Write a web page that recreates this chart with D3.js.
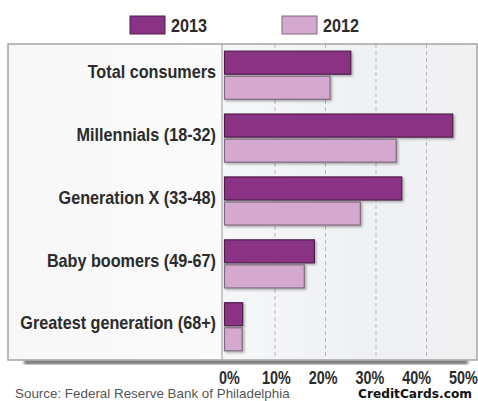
<!DOCTYPE html>
<html>
<head>
<meta charset="utf-8">
<script src="https://cdn.jsdelivr.net/npm/d3@7"></script>
<style>
  body { margin: 0; background: #fff; }
  svg { display: block; }
  .cond { font-family: "Liberation Sans", Arial, sans-serif; font-weight: bold; }
</style>
</head>
<body>
<div id="chart"></div>
<script>
// Share of consumers, by generation
const categories = ["Total consumers", "Millennials (18-32)", "Generation X (33-48)", "Baby boomers (49-67)", "Greatest generation (68+)"];
const years = ["2013", "2012"];
const values2013 = [25, 45.2, 35.1, 17.8, 3.6];
const values2012 = [20.9, 34, 26.9, 15.8, 3.5];
const tickValues = [0, 10, 20, 30, 40, 50];

const width = 478, height = 401;
const colours = { "2013": "#8a3283", "2012": "#d4a8cf" };
const strokes = { "2013": "#4e1f4a", "2012": "#7d6b7b" };

const svg = d3.select("#chart").append("svg")
    .attr("width", width)
    .attr("height", height);

const defs = svg.append("defs");

// panel gradients
const lg = defs.append("linearGradient").attr("id", "labelBg").attr("x1", 0).attr("x2", 1);
lg.append("stop").attr("offset", 0).attr("stop-color", "#f7f7f7");
lg.append("stop").attr("offset", 1).attr("stop-color", "#fbfbfb");
const pg = defs.append("linearGradient").attr("id", "plotBg").attr("x1", 0).attr("x2", 1);
pg.append("stop").attr("offset", 0).attr("stop-color", "#f6f7f9");
pg.append("stop").attr("offset", 0.6).attr("stop-color", "#eef0f3");
pg.append("stop").attr("offset", 1).attr("stop-color", "#f1f1f2");

defs.append("filter").attr("id", "blur")
    .append("feGaussianBlur").attr("stdDeviation", 1.5);
defs.append("filter").attr("id", "barShadow")
    .attr("x", "-10%").attr("y", "-20%").attr("width", "130%").attr("height", "160%")
    .append("feDropShadow")
    .attr("dx", 1.5).attr("dy", 1.5).attr("stdDeviation", 1)
    .attr("flood-color", "#000").attr("flood-opacity", 0.3);

// frame geometry
const frameL = 8, frameR = 477, frameT = 44, frameB = 360, divider = 222;

// scales
const x = d3.scaleLinear().domain([0, 50]).range([224.5, 477]);
const y = d3.scaleBand().domain(categories).range([frameT - 1, frameB - 1])
    .paddingInner(0.235).paddingOuter(0.13);
const ySub = d3.scaleBand().domain(years).range([0, y.bandwidth()]).paddingInner(0.08);
// the printed tick labels sit a bit off the gridlines in the original
const xLabel = d3.scaleLinear().domain([0, 50]).range([229, 463]);

// drop shadow under the frame
svg.append("rect")
    .attr("x", 24).attr("y", frameB + 0.5)
    .attr("width", 444).attr("height", 3.5)
    .attr("fill", "#555")
    .attr("filter", "url(#blur)");

// panels
svg.append("rect")
    .attr("x", frameL).attr("y", frameT)
    .attr("width", divider - frameL).attr("height", frameB - frameT)
    .attr("fill", "url(#labelBg)");
svg.append("rect")
    .attr("x", divider).attr("y", frameT)
    .attr("width", frameR - divider).attr("height", frameB - frameT)
    .attr("fill", "url(#plotBg)");

// gridlines
svg.append("g")
    .selectAll("line")
    .data(tickValues.filter(d => d > 0 && d < 50))
    .join("line")
    .attr("x1", d => x(d)).attr("x2", d => x(d))
    .attr("y1", frameT).attr("y2", frameB)
    .attr("stroke", "#b9b9bd")
    .attr("stroke-width", 1)
    .attr("stroke-dasharray", "4,3");

// frame
svg.append("rect")
    .attr("x", frameL).attr("y", frameT)
    .attr("width", frameR - frameL).attr("height", frameB - frameT)
    .attr("fill", "none")
    .attr("stroke", "#a4a4a4")
    .attr("stroke-width", 1.5);
svg.append("line")
    .attr("x1", divider).attr("x2", divider)
    .attr("y1", frameT).attr("y2", frameB)
    .attr("stroke", "#a4a4a4")
    .attr("stroke-width", 1.2);

// bars
const rows = categories.map((c, i) => ({ cat: c, "2013": values2013[i], "2012": values2012[i] }));
const groups = svg.append("g")
    .selectAll("g")
    .data(rows)
    .join("g")
    .attr("transform", d => `translate(0,${y(d.cat)})`);

groups.selectAll("rect")
    .data(d => years.map(k => ({ key: k, value: d[k] })))
    .join("rect")
    .attr("x", x(0))
    .attr("y", d => ySub(d.key))
    .attr("width", d => x(d.value) - x(0))
    .attr("height", ySub.bandwidth())
    .attr("fill", d => colours[d.key])
    .attr("stroke", d => strokes[d.key])
    .attr("stroke-width", 1.2)
    .attr("filter", "url(#barShadow)");

// category labels (squeezed to mimic the condensed face)
svg.append("g")
    .selectAll("text")
    .data(categories)
    .join("text")
    .attr("class", "cond")
    .attr("transform", d => `translate(216,${y(d) + y.bandwidth() / 2}) scale(0.9,1)`)
    .attr("dy", "0.15em")
    .attr("text-anchor", "end")
    .attr("font-size", 18)
    .attr("fill", "#2b2b2b")
    .text(d => d);

// x axis labels
const xAxis = svg.append("g")
    .attr("transform", `translate(0,${frameB + 8})`)
    .call(d3.axisBottom(xLabel).tickValues(tickValues).tickSize(0).tickFormat(d => d + "%"));
xAxis.select(".domain").remove();
xAxis.selectAll("text")
    .attr("class", "cond")
    .attr("font-size", 18)
    .attr("fill", "#2b2b2b")
    .attr("transform", "scale(0.8,1)");

// legend
const legendX = [130, 282];
const legend = svg.append("g")
    .selectAll("g")
    .data(years)
    .join("g")
    .attr("transform", (d, i) => `translate(${legendX[i]},16)`);
legend.append("rect")
    .attr("width", 35).attr("height", 18)
    .attr("fill", d => colours[d])
    .attr("stroke", d => strokes[d])
    .attr("stroke-width", 1);
legend.append("text")
    .attr("class", "cond")
    .attr("transform", "translate(41,16) scale(0.9,1)")
    .attr("font-size", 18)
    .attr("fill", "#2b2b2b")
    .text(d => d);

// footer
svg.append("text")
    .attr("x", 15).attr("y", 398)
    .attr("font-family", "Liberation Sans, Arial, sans-serif")
    .attr("font-size", 13.4)
    .attr("fill", "#555")
    .text("Source: Federal Reserve Bank of Philadelphia");
svg.append("text")
    .attr("x", 472).attr("y", 398)
    .attr("text-anchor", "end")
    .attr("font-family", "DejaVu Sans, Verdana, sans-serif")
    .attr("font-weight", "bold")
    .attr("font-size", 12.2)
    .attr("fill", "#111")
    .text("CreditCards.com");
</script>
</body>
</html>
